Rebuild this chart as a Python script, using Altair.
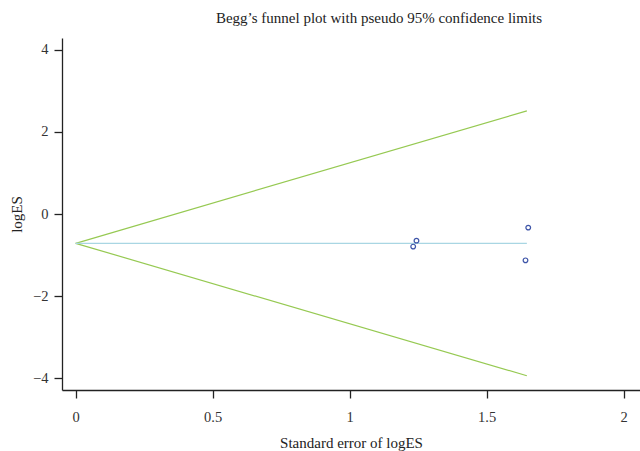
import altair as alt
import pandas as pd

# Study estimates
se = [1.232, 1.244, 1.642, 1.652]
log_es = [-0.795, -0.649, -1.130, -0.332]

# Pooled estimate line and pseudo 95% confidence limits
line_se = [0.0, 1.647]
pooled = [-0.715, -0.715]
upper_limit = [-0.715, 2.513]
lower_limit = [-0.715, -3.943]

x_ticks = [0, 0.5, 1, 1.5, 2]
y_ticks = [-4, -2, 0, 2, 4]

pts = pd.DataFrame({"se": se, "logES": log_es})
lines = pd.DataFrame({
    "se": line_se * 3,
    "val": pooled + upper_limit + lower_limit,
    "grp": ["pooled"] * 2 + ["upper"] * 2 + ["lower"] * 2,
})

FONT = "Liberation Serif"

xs = alt.Scale(domain=[-0.05, 2.06], nice=False, zero=False)
ys = alt.Scale(domain=[-4.29, 4.29], nice=False, zero=False)

xax = alt.Axis(values=x_ticks, title="Standard error of logES", grid=False,
               labelExpr="datum.value == 0 ? '0' : format(datum.value, '~g')",
               tickSize=8, labelPadding=12, titlePadding=12)
yax = alt.Axis(values=y_ticks, title="logES", grid=False, tickSize=8,
               labelPadding=6, titlePadding=8,
               labelExpr="replace(format(datum.value, 'd'), '-', '\u2212')")

base_x = alt.X("se:Q", scale=xs, axis=xax)

funnel = alt.Chart(lines).transform_filter("datum.grp != 'pooled'").mark_line(
    color="#96c952", strokeWidth=1.2
).encode(x=base_x, y=alt.Y("val:Q", scale=ys, axis=yax), detail="grp:N")

pooled_line = alt.Chart(lines).transform_filter("datum.grp == 'pooled'").mark_line(
    color="#a9d6e3", strokeWidth=1.3
).encode(x=alt.X("se:Q", scale=xs), y=alt.Y("val:Q", scale=ys))

points = alt.Chart(pts).mark_point(
    shape="circle", filled=False, color="#3e55a8", size=22, strokeWidth=1.2, opacity=1
).encode(x=alt.X("se:Q", scale=xs), y=alt.Y("logES:Q", scale=ys))

chart = alt.layer(funnel, pooled_line, points).properties(
    width=578, height=352,
    title=alt.TitleParams("Begg\u2019s funnel plot with pseudo 95% confidence limits",
                          font=FONT, fontSize=15, fontWeight="normal",
                          color="#222222", anchor="middle", dx=28, offset=12),
    padding={"left": 62, "top": 38, "right": 0, "bottom": 61},
    autosize=alt.AutoSizeParams(type="none"),
).configure_view(stroke=None).configure_axis(
    labelFont=FONT, titleFont=FONT, labelFontSize=14.5, titleFontSize=15,
    titleFontWeight="normal", labelColor="#333333", titleColor="#222222",
    domainColor="#222222", tickColor="#222222", domainWidth=1.3, tickWidth=1.3,
)

chart.save("out.html", embed_options={"renderer": "svg", "actions": False})
